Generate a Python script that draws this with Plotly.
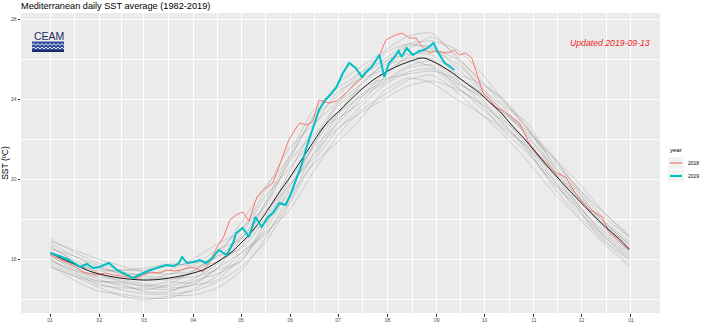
import plotly.graph_objects as go

# ---------------- data ----------------
MONTH_STARTS = [0, 31, 59, 90, 120, 151, 181, 212, 243, 273, 304, 334, 365]
MONTH_LABELS = ["01", "02", "03", "04", "05", "06", "07", "08", "09", "10", "11", "12", "01"]
Y_TICKS = [16, 20, 24, 28]
Y_MINOR = [14, 18, 22, 26]

# background years (sampled every ~15 days)
GRAY_DAYS = [0, 15, 30, 45, 60, 75, 90, 105, 120, 135, 150, 165, 180, 195, 210, 225, 240, 255, 270, 285, 300, 315, 330, 345, 364]
GRAY_YEARS = [
    [15.8, 15.15, 14.8, 14.45, 14.25, 14.25, 14.4, 14.85, 15.6, 16.8, 18.7, 20.8, 22.4, 23.6, 24.7, 25.35, 25.5, 24.6, 23.8, 22.4, 21.3, 19.95, 18.7, 17.3, 16.1],
    [16.6, 15.95, 15.3, 14.85, 14.65, 14.85, 14.8, 15.55, 17.0, 18.7, 20.8, 22.2, 23.0, 23.8, 25.1, 26.15, 26.4, 25.8, 24.7, 23.3, 22.4, 21.15, 19.6, 18.1, 16.9],
    [16.0, 15.35, 14.7, 14.55, 14.55, 14.45, 14.7, 14.95, 16.1, 17.3, 18.4, 20.3, 22.1, 23.4, 24.2, 24.95, 25.2, 24.4, 23.3, 22.5, 21.5, 19.75, 18.3, 17.2, 15.7],
    [16.8, 16.15, 15.6, 15.25, 14.95, 15.25, 15.4, 16.35, 17.5, 18.6, 20.9, 23.0, 24.1, 25.3, 26.3, 26.75, 26.5, 26.0, 24.6, 23.6, 22.1, 20.75, 19.5, 18.0, 16.8],
    [16.1, 15.65, 15.5, 15.35, 15.15, 15.05, 15.1, 15.45, 15.9, 17.6, 19.7, 21.0, 22.8, 24.2, 24.9, 25.65, 25.9, 24.9, 24.1, 22.7, 21.6, 20.35, 18.8, 17.6, 16.4],
    [16.3, 15.55, 15.0, 14.65, 14.45, 14.75, 15.4, 16.15, 16.5, 18.0, 20.3, 22.5, 24.3, 25.0, 25.5, 26.45, 27.1, 26.2, 24.9, 24.0, 22.6, 20.65, 19.2, 17.8, 16.4],
    [17.0, 16.35, 15.8, 15.45, 15.45, 15.65, 15.8, 16.05, 17.2, 19.1, 20.5, 22.0, 23.7, 25.1, 25.9, 26.25, 26.2, 25.3, 24.8, 23.9, 22.5, 20.95, 19.7, 18.3, 17.1],
    [15.7, 14.95, 14.4, 14.25, 14.05, 14.05, 14.5, 15.15, 16.3, 17.2, 18.8, 21.2, 22.5, 23.3, 24.0, 24.65, 24.9, 24.5, 23.8, 22.8, 21.4, 19.85, 18.7, 17.1, 16.0],
    [16.5, 16.15, 15.7, 15.25, 15.25, 15.45, 16.0, 16.75, 17.4, 19.4, 21.5, 22.7, 23.8, 24.7, 25.8, 26.65, 26.6, 25.6, 24.5, 23.4, 22.3, 21.15, 20.0, 18.6, 17.1],
    [15.9, 15.45, 15.1, 14.95, 14.75, 14.65, 15.0, 15.75, 17.1, 17.8, 19.3, 21.6, 23.6, 24.5, 25.0, 25.25, 25.4, 25.0, 23.9, 22.9, 21.9, 20.15, 18.5, 17.4, 15.9],
    [16.7, 15.85, 15.2, 15.05, 15.05, 14.95, 15.3, 16.15, 17.8, 19.6, 21.0, 23.1, 24.7, 25.6, 26.4, 27.15, 27.3, 26.1, 25.0, 23.7, 22.8, 20.85, 19.3, 18.1, 16.7],
    [16.2, 15.45, 14.9, 14.75, 14.35, 14.35, 14.9, 15.25, 15.9, 17.8, 19.9, 21.5, 22.7, 24.0, 25.3, 26.05, 26.0, 25.1, 24.4, 23.0, 21.7, 20.45, 19.3, 17.9, 16.7],
    [16.4, 15.75, 15.4, 15.45, 15.55, 15.75, 15.7, 16.45, 17.0, 18.4, 19.6, 21.2, 23.1, 24.7, 25.7, 25.95, 25.6, 24.8, 24.2, 23.3, 22.2, 20.55, 18.9, 17.5, 16.3],
    [15.6, 15.15, 14.6, 14.15, 13.95, 14.15, 14.2, 14.55, 15.4, 17.0, 19.1, 20.7, 21.8, 23.0, 24.4, 25.05, 24.8, 24.0, 23.3, 22.2, 20.9, 19.45, 18.2, 17.0, 15.6],
    [16.9, 16.45, 16.0, 15.65, 15.35, 15.25, 15.6, 15.85, 16.6, 18.8, 21.1, 23.4, 24.5, 25.3, 26.0, 26.75, 26.9, 26.5, 25.4, 23.9, 22.5, 21.25, 19.7, 18.5, 17.2],
    [16.0, 15.25, 14.9, 14.85, 14.65, 14.55, 14.7, 15.55, 16.3, 17.4, 19.5, 21.6, 23.2, 24.1, 24.8, 25.55, 25.7, 24.7, 23.6, 22.6, 21.6, 20.05, 18.9, 17.4, 16.2],
]

MEAN_DAYS = [0, 8, 15, 23, 31, 44, 58, 67, 75, 82, 90, 96, 102, 108, 115, 120, 125, 132, 138, 145, 150, 155, 160, 165, 170, 175, 181, 188, 196, 203, 210, 217, 225, 234, 240, 246, 253, 258, 263, 270, 276, 283, 290, 297, 305, 313, 322, 332, 340, 349, 357, 364]
MEAN_SST = [16.3, 16.0, 15.75, 15.45, 15.25, 15.05, 14.95, 14.97, 15.05, 15.15, 15.3, 15.45, 15.7, 16.0, 16.4, 16.8, 17.2, 17.9, 18.6, 19.45, 20.0, 20.6, 21.2, 21.8, 22.4, 22.9, 23.35, 23.9, 24.5, 24.95, 25.3, 25.6, 25.85, 26.05, 25.9, 25.65, 25.3, 25.0, 24.7, 24.3, 23.85, 23.35, 22.7, 22.1, 21.35, 20.6, 19.8, 18.95, 18.3, 17.6, 17.05, 16.5]

DAYS_2018 = [0, 6, 12, 21, 29, 35, 40, 50, 54, 59, 63, 69, 73, 78, 82, 88, 93, 96, 100, 105, 109, 113, 117, 121, 125, 130, 134, 140, 146, 150, 155, 157, 161, 165, 169, 175, 180, 186, 191, 196, 202, 207, 211, 217, 221, 226, 230, 234, 238, 242, 246, 250, 254, 257, 261, 265, 268, 272, 276, 280, 285, 290, 295, 301, 307, 312, 318, 324, 330, 334, 339, 343, 347, 351, 355, 359, 364]
SST_2018 = [16.2, 16.0, 15.8, 15.35, 15.2, 15.3, 15.2, 15.1, 15.05, 15.2, 15.35, 15.3, 15.45, 15.4, 15.45, 15.6, 15.5, 15.35, 15.8, 16.6, 17.1, 17.95, 18.2, 18.35, 17.9, 19.1, 19.45, 19.8, 21.1, 21.95, 22.6, 22.8, 22.7, 22.85, 23.95, 23.8, 23.9, 24.3, 24.7, 25.05, 25.6, 26.2, 26.95, 27.2, 27.3, 27.05, 27.05, 26.6, 26.3, 26.4, 26.35, 26.3, 26.45, 26.2, 26.3, 26.05, 25.3, 24.3, 24.0, 23.6, 23.4, 23.1, 22.8, 21.8, 21.2, 20.8, 20.3, 20.1, 19.3, 18.9, 18.45, 18.3, 18.1, 17.35, 17.1, 16.8, 16.45]

DAYS_2019 = [0, 6, 12, 19, 23, 27, 31, 37, 42, 47, 52, 56, 63, 69, 73, 78, 81, 83, 86, 90, 94, 98, 102, 106, 111, 115, 117, 121, 125, 129, 133, 137, 140, 144, 148, 151, 154, 158, 161, 165, 169, 173, 176, 180, 184, 188, 192, 196, 198, 202, 207, 210, 213, 216, 219, 221, 224, 228, 232, 235, 238, 241, 244, 248, 251, 254]
SST_2019 = [16.3, 16.15, 15.95, 15.6, 15.75, 15.55, 15.6, 15.8, 15.45, 15.25, 15.05, 15.2, 15.45, 15.6, 15.7, 15.65, 15.8, 16.1, 15.8, 15.85, 15.95, 15.8, 16.05, 16.45, 16.2, 16.8, 17.3, 17.55, 17.1, 18.1, 17.6, 18.1, 18.3, 18.8, 18.7, 19.2, 19.8, 20.7, 21.55, 22.45, 23.45, 23.95, 24.2, 24.6, 25.3, 25.8, 25.55, 25.1, 25.3, 25.6, 26.2, 25.1, 25.8, 26.05, 26.4, 26.1, 26.55, 26.2, 26.4, 26.45, 26.6, 26.8, 26.3, 25.8, 25.65, 25.45]

COL_2018 = "#F8766D"
COL_2019 = "#00BFC4"

# ---------------- geometry helpers (pixel -> paper) ----------------
W, H = 701, 322
ML, MR, MT, MB = 21, 41, 13, 9
PW, PH = W - ML - MR, H - MT - MB
FONT = "Liberation Sans, Arial, sans-serif"


def px(x):
    return (x - ML) / PW


def py(y):
    return (H - MB - y) / PH


fig = go.Figure()

for vals in GRAY_YEARS:
    fig.add_trace(go.Scatter(x=GRAY_DAYS, y=vals, mode="lines",
                             line=dict(color="rgba(90,90,90,0.32)", width=0.7, shape="spline", smoothing=0.6),
                             showlegend=False, hoverinfo="skip"))

fig.add_trace(go.Scatter(x=DAYS_2018, y=SST_2018, mode="lines", name="2018", line=dict(color=COL_2018, width=1), showlegend=False))
fig.add_trace(go.Scatter(x=MEAN_DAYS, y=MEAN_SST, mode="lines", name="mean", line=dict(color="#1a1a1a", width=1, shape="spline"), showlegend=False))
fig.add_trace(go.Scatter(x=DAYS_2019, y=SST_2019, mode="lines", name="2019", line=dict(color=COL_2019, width=2), showlegend=False))

minor_x = [(a + b) / 2 for a, b in zip(MONTH_STARTS[:-1], MONTH_STARTS[1:])]

tickfont = dict(family=FONT, size=5, color="#4D4D4D")

fig.update_xaxes(range=[-18.25, 383.25], tickmode="array", tickvals=MONTH_STARTS, ticktext=MONTH_LABELS,
                 showgrid=True, gridcolor="white", gridwidth=1, zeroline=False, showline=False, automargin=False,
                 ticks="outside", ticklen=2.5, tickwidth=0.6, tickcolor="#333333", tickfont=tickfont, ticklabelstandoff=-1,
                 minor=dict(tickmode="array", tickvals=minor_x, showgrid=True, gridcolor="white", gridwidth=0.5, ticks=""))
fig.update_yaxes(range=[13.3, 28.3], tickmode="array", tickvals=Y_TICKS,
                 showgrid=True, gridcolor="white", gridwidth=1, zeroline=False, showline=False, automargin=False,
                 ticks="outside", ticklen=2.5, tickwidth=0.6, tickcolor="#333333", tickfont=tickfont,
                 minor=dict(tickmode="array", tickvals=Y_MINOR, showgrid=True, gridcolor="white", gridwidth=0.5, ticks=""),
                 title=dict(text="SST (ºC)", font=dict(family=FONT, size=8.5, color="black"), standoff=3))

shapes = []
# legend keys (ggplot-like)
for yy, col, lw in [(163, COL_2018, 1.2), (176, COL_2019, 2)]:
    shapes.append(dict(type="rect", xref="paper", yref="paper", x0=px(668), x1=px(684), y0=py(yy + 6), y1=py(yy - 6),
                       fillcolor="#F2F2F2", line=dict(width=0), layer="below"))
    shapes.append(dict(type="line", xref="paper", yref="paper", x0=px(670), x1=px(682), y0=py(yy), y1=py(yy),
                       line=dict(color=col, width=lw)))

# CEAM logo: blue band with white waves
shapes.append(dict(type="rect", xref="paper", yref="paper", x0=px(32), x1=px(64), y0=py(52), y1=py(41.5),
                   fillcolor="#2E4C9F", line=dict(width=0)))
shapes.append(dict(type="rect", xref="paper", yref="paper", x0=px(32), x1=px(64), y0=py(52), y1=py(50),
                   fillcolor="#1E2A63", line=dict(width=0)))
for wy in (44.5, 48.0):
    xs = [32 + i * 2 for i in range(17)]
    path = "M %f,%f" % (px(xs[0]), py(wy))
    for i in range(1, len(xs)):
        dy = -0.9 if i % 2 else 0.9
        path += " L %f,%f" % (px(xs[i]), py(wy + dy))
    shapes.append(dict(type="path", xref="paper", yref="paper", path=path, line=dict(color="white", width=0.9)))

annotations = [
    dict(text="CEAM", xref="paper", yref="paper", x=px(31.5), y=py(36), xanchor="left", yanchor="middle",
         showarrow=False, font=dict(family=FONT, size=10.5, color="#1E2A63")),
    dict(text="<i>Updated 2019-09-13</i>", xref="paper", yref="paper", x=px(652), y=py(43), xanchor="right", yanchor="middle",
         showarrow=False, font=dict(family=FONT, size=8.7, color="#F01E1E")),
    dict(text="year", xref="paper", yref="paper", x=px(668), y=py(150), xanchor="left", yanchor="middle",
         showarrow=False, font=dict(family=FONT, size=6, color="black")),
    dict(text="2018", xref="paper", yref="paper", x=px(686), y=py(163), xanchor="left", yanchor="middle",
         showarrow=False, font=dict(family=FONT, size=5, color="black")),
    dict(text="2019", xref="paper", yref="paper", x=px(686), y=py(176), xanchor="left", yanchor="middle",
         showarrow=False, font=dict(family=FONT, size=5, color="black")),
]

fig.update_layout(
    width=W, height=H,
    margin=dict(l=ML, r=MR, t=MT, b=MB, autoexpand=False),
    paper_bgcolor="white", plot_bgcolor="#EBEBEB",
    showlegend=False,
    title=dict(text="Mediterranean daily SST average (1982-2019)", x=px(21), xref="paper", xanchor="left",
               y=1 - 5.5 / H, yref="container", yanchor="middle",
               font=dict(family=FONT, size=9.2, color="black")),
    shapes=shapes, annotations=annotations,
)

# remove the browser's default 8px body margin so the figure fills the window
fig.write_html("out.html", config={"displayModeBar": False},
               post_script="document.body.style.margin='0';")
